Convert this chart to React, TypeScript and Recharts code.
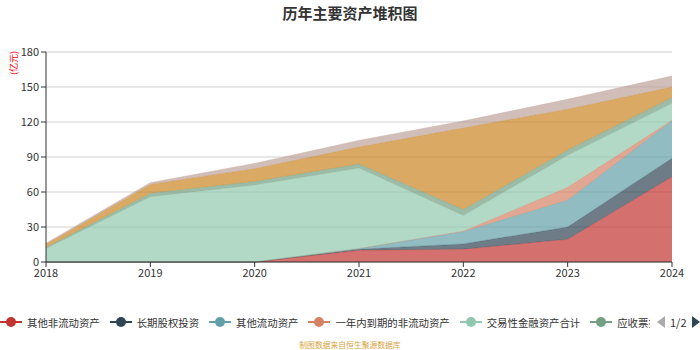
import React from 'react';
import {
    Area,
    AreaChart,
    CartesianGrid,
    XAxis,
    YAxis,
} from 'recharts';

const years = ['2018', '2019', '2020', '2021', '2022', '2023', '2024'];
const otherNonCurrent = [0, 0, 0, 10, 11, 19.5, 73];
const longTermEquity = [0, 0, 0, 1, 4.5, 10.5, 16];
const otherCurrent = [0, 0, 0, 0.5, 10.5, 23, 32];
const dueWithinYear = [0, 0, 0, 0, 0.4, 11, 0.5];
const tradingFinancial = [11.5, 56, 66, 69, 13.5, 27.5, 14.5];
const notesReceivable = [1, 3, 3, 3.5, 5, 4.5, 5];
const cashFunds = [2.5, 7.5, 11, 14.5, 70, 35, 9];
const inventory = [1, 1.5, 4.5, 5.7, 6, 8.5, 9.5];
const yTicks = [0, 30, 60, 90, 120, 150, 180];

const seriesDefs = [
    {key: 'a', name: '其他非流动资产', values: otherNonCurrent, color: '#c23531'},
    {key: 'b', name: '长期股权投资', values: longTermEquity, color: '#2f4554'},
    {key: 'c', name: '其他流动资产', values: otherCurrent, color: '#61a0a8'},
    {key: 'd', name: '一年内到期的非流动资产', values: dueWithinYear, color: '#d48265'},
    {key: 'e', name: '交易性金融资产合计', values: tradingFinancial, color: '#91c7ae'},
    {key: 'f', name: '应收票据', values: notesReceivable, color: '#749f83'},
    {key: 'g', name: '货币资金', values: cashFunds, color: '#ca8622'},
    {key: 'h', name: '存货', values: inventory, color: '#bda29a'},
];

const chartData = years.map((year, i) => {
    const row: Record<string, string | number> = {year};
    seriesDefs.forEach((s) => {
        row[s.key] = s.values[i];
    });
    return row;
});

const font = '"Noto Sans CJK SC", "Noto Sans", sans-serif';

const App: React.FC = () => {
    return (
        <div style={{position: 'absolute', left: 0, top: 0, width: 700, height: 350, fontFamily: font, background: '#fff'}}>
            <div style={{position: 'absolute', left: 0, top: 2, width: 700, textAlign: 'center', fontSize: 15, fontWeight: 'bold', color: '#333'}}>
                历年主要资产堆积图
            </div>
            <AreaChart
                width={700}
                height={350}
                data={chartData}
                margin={{top: 52, right: 28, bottom: 68, left: 0}}
                style={{fontFamily: font}}
            >
                <CartesianGrid vertical={false} stroke='#e0e0e0' strokeWidth={1.5} />
                <XAxis
                    dataKey='year'
                    height={20}
                    stroke='#333'
                    tickSize={5}
                    tick={{fontSize: 11, fill: '#333'}}
                    padding={{left: 0, right: 0}}
                />
                <YAxis
                    width={46}
                    domain={[0, 180]}
                    ticks={yTicks}
                    stroke='#333'
                    tickSize={5}
                    tick={{fontSize: 11, fill: '#333'}}
                    interval={0}
                />
                {seriesDefs.map((s) => (
                    <Area
                        key={s.key}
                        type='linear'
                        dataKey={s.key}
                        name={s.name}
                        stackId='1'
                        stroke={s.color}
                        strokeOpacity={0.4}
                        strokeWidth={1}
                        fill={s.color}
                        fillOpacity={0.7}
                        dot={false}
                        activeDot={false}
                        isAnimationActive={false}
                    />
                ))}
            </AreaChart>
            <div style={{position: 'absolute', left: 13, top: 63, transform: 'translate(-50%, -50%) rotate(-90deg)', fontSize: 9, color: '#f00', whiteSpace: 'nowrap'}}>
                (亿元)
            </div>
            <div style={{position: 'absolute', left: 0, top: 313, width: 650, height: 18, overflow: 'hidden', display: 'flex', gap: 10, alignItems: 'center', whiteSpace: 'nowrap'}}>
                {seriesDefs.slice(0, 6).map((s) => (
                    <div key={s.key} style={{display: 'flex', alignItems: 'center', flexShrink: 0}}>
                        <svg width={22} height={12} style={{marginRight: 5}}>
                            <line x1={0} y1={6} x2={22} y2={6} stroke={s.color} strokeWidth={2} />
                            <circle cx={11} cy={6} r={5} fill={s.color} />
                        </svg>
                        <span style={{fontSize: 10.4, color: '#333'}}>{s.name}</span>
                    </div>
                ))}
            </div>
            <div style={{position: 'absolute', left: 656, top: 313, height: 18, display: 'flex', alignItems: 'center'}}>
                <svg width={10} height={12}>
                    <polygon points='9,0 9,12 1,6' fill='#aaa' />
                </svg>
                <span style={{fontSize: 11, color: '#333', margin: '0 4px'}}>1/2</span>
                <svg width={10} height={12}>
                    <polygon points='1,0 1,12 9,6' fill='#2f4554' />
                </svg>
            </div>
            <div style={{position: 'absolute', left: 0, top: 339, width: 700, textAlign: 'center', fontSize: 7.8, color: '#d9a441'}}>
                制图数据来自恒生聚源数据库
            </div>
        </div>
    );
};

export default App;
